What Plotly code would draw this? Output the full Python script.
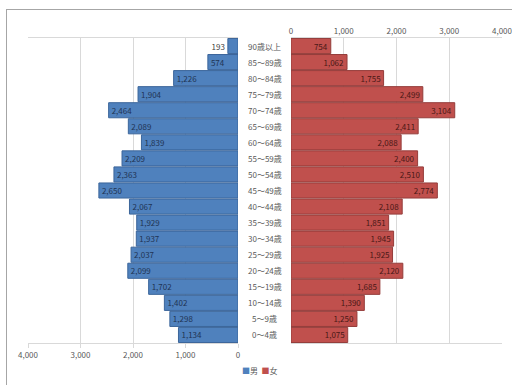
import plotly.graph_objects as go

W, H = 512, 385

# Age groups, bottom to top
age_groups = ["0～4歳", "5～9歳", "10～14歳", "15～19歳", "20～24歳", "25～29歳",
              "30～34歳", "35～39歳", "40～44歳", "45～49歳", "50～54歳", "55～59歳",
              "60～64歳", "65～69歳", "70～74歳", "75～79歳", "80～84歳", "85～89歳",
              "90歳以上"]
male = [1134, 1298, 1402, 1702, 2099, 2037, 1937, 1929, 2067, 2650,
        2363, 2209, 1839, 2089, 2464, 1904, 1226, 574, 193]
female = [1075, 1250, 1390, 1685, 2120, 1925, 1945, 1851, 2108, 2774,
          2510, 2400, 2088, 2411, 3104, 2499, 1755, 1062, 754]
tick_vals = [0, 1000, 2000, 3000, 4000]
series_names = ["男", "女"]
series_colors = ["#4f81bd", "#c0504d"]

FONT = "Noto Sans CJK JP"
GRID = "#d9d9d9"
TXT = "#595959"


def px_x(p):
    return p / W


def px_y(p):
    return 1 - p / H


fig = go.Figure()
fig.add_trace(go.Bar(
    y=age_groups, x=male, name=series_names[0], orientation="h",
    xaxis="x", yaxis="y",
    marker=dict(color=series_colors[0], line=dict(color="#3b659a", width=1)),
    texttemplate="%{x:,}", textposition="auto", insidetextanchor="end",
    textfont=dict(family=FONT, size=8, color="#1f3454"),
    outsidetextfont=dict(family=FONT, size=8, color="#404040"),
    constraintext="none", cliponaxis=False,
))
fig.add_trace(go.Bar(
    y=age_groups, x=female, name=series_names[1], orientation="h",
    xaxis="x2", yaxis="y2",
    marker=dict(color=series_colors[1], line=dict(color="#943c3a", width=1)),
    texttemplate="%{x:,}", textposition="auto", insidetextanchor="end",
    textfont=dict(family=FONT, size=8, color="#4a1816"),
    outsidetextfont=dict(family=FONT, size=8, color="#404040"),
    constraintext="none", cliponaxis=False,
))

# Age labels in the centre column
for g in age_groups:
    fig.add_annotation(x=px_x(264.5), xref="paper", y=g, yref="y",
                       text=g, showarrow=False,
                       font=dict(family=FONT, size=8, color=TXT))

# Compact legend below the chart
legend_text = "  ".join(
    f"<span style='color:{c}'>■</span>{n}" for n, c in zip(series_names, series_colors)
)
fig.add_annotation(x=px_x(260), xref="paper", y=px_y(378), yref="paper",
                   text=legend_text, showarrow=False,
                   font=dict(family=FONT, size=8, color=TXT))

ydom = [px_y(343), px_y(38)]
axis_common = dict(tickvals=tick_vals, tickformat=",",
                   showgrid=True, gridcolor=GRID, gridwidth=1,
                   showline=True, linecolor=GRID, mirror=True,
                   zeroline=False, fixedrange=True,
                   ticklabeloverflow="allow",
                   tickfont=dict(family=FONT, size=8, color=TXT))

fig.update_layout(
    width=W, height=H,
    margin=dict(l=0, r=0, t=0, b=0, autoexpand=False),
    paper_bgcolor="white", plot_bgcolor="white",
    barmode="overlay", bargap=0.06,
    showlegend=False,
    xaxis=dict(domain=[px_x(28), px_x(238)], range=[4000, 0],
               side="bottom", anchor="y", automargin=False,
               ticks="outside", ticklen=4, tickcolor=GRID,
               **axis_common),
    xaxis2=dict(domain=[px_x(291), px_x(502)], range=[0, 4000],
                side="top", anchor="y2", automargin=False,
                ticks="", **axis_common),
    yaxis=dict(domain=ydom, categoryorder="array", categoryarray=age_groups,
               showticklabels=False, showgrid=False, zeroline=False,
               showline=False, fixedrange=True, anchor="x", automargin=False),
    yaxis2=dict(domain=ydom, categoryorder="array", categoryarray=age_groups,
                showticklabels=False, showgrid=False, zeroline=False,
                showline=False, fixedrange=True, anchor="x2", matches="y",
                automargin=False),
    shapes=[
        # outer frame: top and left edges
        dict(type="line", xref="paper", yref="paper",
             x0=px_x(6), x1=1, y0=px_y(9.5), y1=px_y(9.5),
             line=dict(color="#a6a6a6", width=1)),
        dict(type="line", xref="paper", yref="paper",
             x0=px_x(6.5), x1=px_x(6.5), y0=px_y(9.5), y1=0,
             line=dict(color="#a6a6a6", width=1)),
    ],
)

fig.write_html("out.html")
